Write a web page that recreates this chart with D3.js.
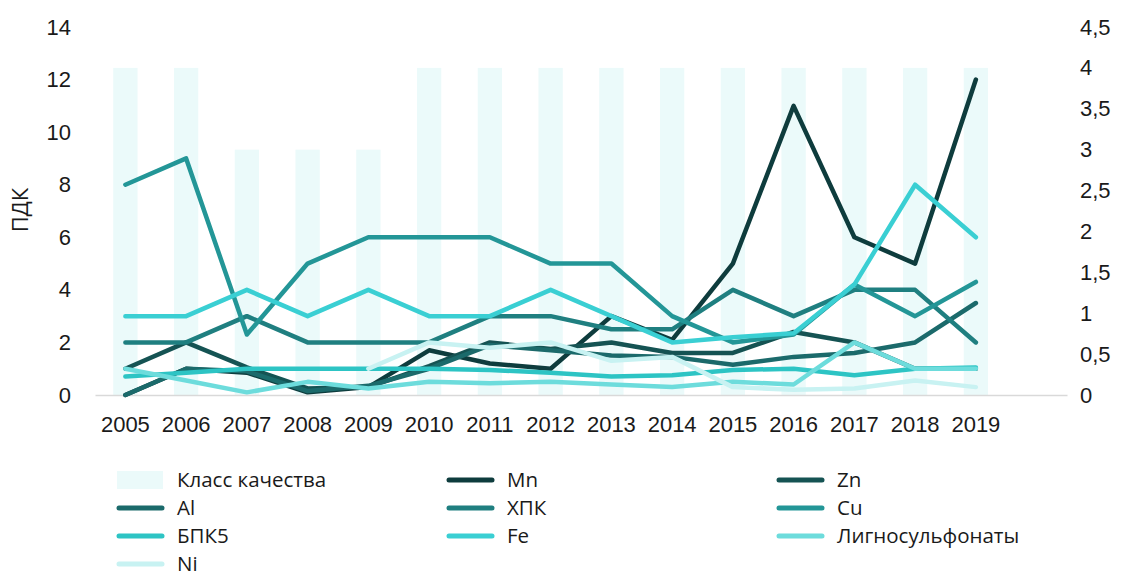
<!DOCTYPE html>
<html>
<head>
<meta charset="utf-8">
<script src="https://cdn.jsdelivr.net/npm/d3@7"></script>
<style>
  body { margin: 0; background: #fff; }
  svg { font-family: "Open Sans", sans-serif; }
</style>
</head>
<body>
<svg id="chart" width="1125" height="578"></svg>
<script>
// data
var years = ["2005","2006","2007","2008","2009","2010","2011","2012","2013","2014","2015","2016","2017","2018","2019"];
var qualityClass = [4, 4, 3, 3, 3, 4, 4, 4, 4, 4, 4, 4, 4, 4, 4];

var seriesNames = ["Mn", "Zn", "Al", "ХПК", "Cu", "БПК5", "Fe", "Лигносульфонаты", "Ni"];
var mn    = [0, 1.0, 0.85, 0.1, 0.3, 1.7, 1.2, 1.0, 3.0, 2.1, 5.0, 11.0, 6.0, 5.0, 12.0];
var zn    = [1.0, 2.0, 1.05, 0.25, 0.3, 1.1, 2.0, 1.75, 2.0, 1.6, 1.6, 2.4, 2.0, 1.0, 1.0];
var al    = [0, 1.0, 0.9, 0.15, 0.35, 1.0, 1.9, 1.7, 1.5, 1.45, 1.15, 1.45, 1.6, 2.0, 3.5];
var hpk   = [2.0, 2.0, 3.0, 2.0, 2.0, 2.0, 3.0, 3.0, 2.5, 2.5, 4.0, 3.0, 4.0, 4.0, 2.0];
var cu    = [8.0, 9.0, 2.3, 5.0, 6.0, 6.0, 6.0, 5.0, 5.0, 3.0, 2.0, 2.3, 4.2, 3.0, 4.3];
var bpk5  = [0.7, 0.85, 1.0, 1.0, 1.0, 1.0, 0.95, 0.85, 0.7, 0.75, 0.95, 1.0, 0.75, 1.0, 1.05];
var fe    = [3.0, 3.0, 4.0, 3.0, 4.0, 3.0, 3.0, 4.0, 3.0, 2.0, 2.2, 2.35, 4.2, 8.0, 6.0];
var ligno = [1.0, 0.55, 0.1, 0.5, 0.25, 0.5, 0.45, 0.5, 0.4, 0.3, 0.5, 0.4, 2.0, 1.0, 1.0];
var ni    = [null, null, null, null, 1.0, 2.0, 1.8, 2.0, 1.3, 1.45, 0.3, 0.2, 0.25, 0.55, 0.3];

var seriesValues = [mn, zn, al, hpk, cu, bpk5, fe, ligno, ni];
var colors = ["#0e3c3d", "#155353", "#1b6a6b", "#1f7f80", "#239697", "#2dc4c4", "#3acfd3", "#6ddcdc", "#c8f2f2"];
var barColor = "#ebfafa";

var leftTicks = [0, 2, 4, 6, 8, 10, 12, 14];
var rightTicks = [0, 0.5, 1, 1.5, 2, 2.5, 3, 3.5, 4, 4.5];

var dimensions = {
    width: 1125,
    height: 578,
    margin: { top: 27, bottom: 183, left: 95, right: 58 }
}

var svg = d3.select("#chart")

// one empty slot after 2019, like the source chart
var xScale = d3.scaleBand()
               .domain(years.concat([" "]))
               .range([dimensions.margin.left, dimensions.width - dimensions.margin.right])
               .paddingInner(0.6)
               .paddingOuter(0.3)

var xCenter = d => xScale(d) + xScale.bandwidth() / 2

var yLeft = d3.scaleLinear()
              .domain([0, 14])
              .range([dimensions.height - dimensions.margin.bottom, dimensions.margin.top])

var yRight = d3.scaleLinear()
               .domain([0, 4.5])
               .range([dimensions.height - dimensions.margin.bottom, dimensions.margin.top])

// quality class bars (secondary axis)
svg.append("g")
   .selectAll("rect")
   .data(years)
   .enter()
   .append("rect")
   .attr("x", d => xScale(d))
   .attr("width", xScale.bandwidth())
   .attr("y", (d, i) => yRight(qualityClass[i]))
   .attr("height", (d, i) => yRight(0) - yRight(qualityClass[i]))
   .attr("fill", barColor)

// x axis
var xAxisGen = d3.axisBottom().scale(xScale).tickSize(0).tickSizeOuter(0).tickPadding(21)
var xAxis = svg.append("g")
               .attr("transform", `translate(0,${yLeft(0)})`)
               .call(xAxisGen)
xAxis.select(".domain").attr("stroke", "#d9d9d9").attr("stroke-width", 1.5)
xAxis.selectAll("text").style("font-size", "22px").attr("fill", "#1a1a1a")

// left axis
var yAxisGen = d3.axisLeft().scale(yLeft).tickValues(leftTicks).tickSize(0).tickPadding(24)
var yAxis = svg.append("g")
               .attr("transform", `translate(${dimensions.margin.left},0)`)
               .call(yAxisGen)
yAxis.select(".domain").remove()
yAxis.selectAll("text").style("font-size", "22px").attr("fill", "#1a1a1a")

// right axis
var yAxisGenR = d3.axisRight().scale(yRight).tickValues(rightTicks).tickSize(0).tickPadding(13)
                  .tickFormat(d => String(d).replace(".", ","))
var yAxisR = svg.append("g")
                .attr("transform", `translate(${dimensions.width - dimensions.margin.right},0)`)
                .call(yAxisGenR)
yAxisR.select(".domain").remove()
yAxisR.selectAll("text").style("font-size", "22px").attr("fill", "#1a1a1a")

// axis title
svg.append("text")
   .attr("transform", `translate(28,${(yLeft(0) + yLeft(14)) / 2 - 1}) rotate(-90)`)
   .attr("text-anchor", "middle")
   .style("font-size", "22px")
   .attr("fill", "#1a1a1a")
   .text("ПДК")

// lines
var line = d3.line()
             .defined(d => d.v !== null)
             .x(d => xCenter(d.year))
             .y(d => yLeft(d.v))

svg.append("g")
   .selectAll("path")
   .data(seriesValues)
   .enter()
   .append("path")
   .attr("d", vals => line(vals.map((v, i) => ({ year: years[i], v: v }))))
   .attr("fill", "none")
   .attr("stroke", (_, i) => colors[i])
   .attr("stroke-width", 4.5)
   .attr("stroke-linecap", "round")
   .attr("stroke-linejoin", "round")

// legend
var legendItems = ["Класс качества"].concat(seriesNames)
var colX = [117, 447, 777]
var rowY = [480, 508, 536, 564]

var legend = svg.append("g")
                .selectAll("g")
                .data(legendItems)
                .enter()
                .append("g")
                .attr("transform", (d, i) => `translate(${colX[i % 3]},${rowY[Math.floor(i / 3)]})`)

legend.each(function(d, i) {
    var g = d3.select(this)
    if (i === 0) {
        g.append("rect")
         .attr("x", 0).attr("y", -9)
         .attr("width", 46).attr("height", 18)
         .attr("fill", barColor)
    } else {
        g.append("line")
         .attr("x1", 2).attr("x2", 45)
         .attr("y1", 0).attr("y2", 0)
         .attr("stroke", colors[i - 1])
         .attr("stroke-width", 5)
         .attr("stroke-linecap", "round")
    }
    g.append("text")
     .attr("x", 60)
     .attr("dy", "0.35em")
     .style("font-size", "20.5px")
     .attr("fill", "#1a1a1a")
     .text(d)
})
</script>
</body>
</html>
